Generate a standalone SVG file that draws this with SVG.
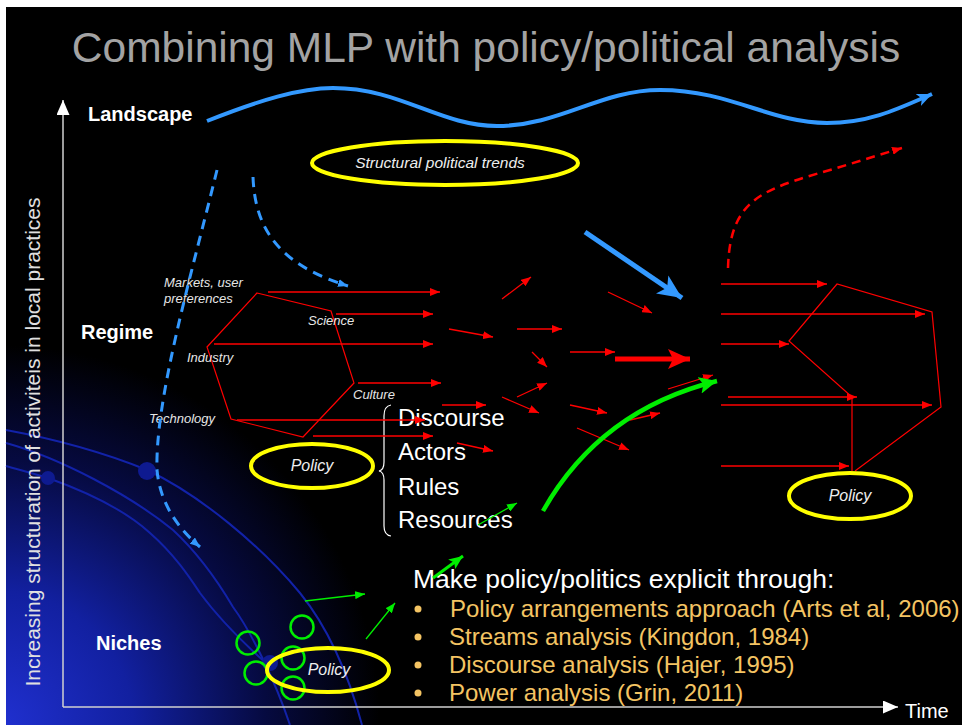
<svg xmlns="http://www.w3.org/2000/svg" width="962" height="725" viewBox="0 0 962 725">
<defs>
<radialGradient id="glow" gradientUnits="userSpaceOnUse" cx="0" cy="725" r="380">
<stop offset="0" stop-color="#2030d0"/>
<stop offset="0.35" stop-color="#1220a0"/>
<stop offset="0.7" stop-color="#060a40"/>
<stop offset="1" stop-color="#000"/>
</radialGradient>
<marker id="hr" markerUnits="userSpaceOnUse" markerWidth="10" markerHeight="8" refX="10" refY="4" orient="auto" viewBox="0 0 10 8"><path d="M0,0L10,4L0,8z" fill="#f00"/></marker>
<marker id="hrb" markerUnits="userSpaceOnUse" markerWidth="22" markerHeight="20" refX="22" refY="10" orient="auto" viewBox="0 0 22 20"><path d="M0,0L22,10L0,20L5,10z" fill="#f00"/></marker>
<marker id="hbw" markerUnits="userSpaceOnUse" markerWidth="15" markerHeight="13" refX="15" refY="6.5" orient="auto" viewBox="0 0 15 13"><path d="M0,0L15,6.5L0,13L4,6.5z" fill="#3399ff"/></marker>
<marker id="hbb" markerUnits="userSpaceOnUse" markerWidth="24" markerHeight="22" refX="24" refY="11" orient="auto" viewBox="0 0 24 22"><path d="M0,0L24,11L0,22L6,11z" fill="#3399ff"/></marker>
<marker id="hbd" markerUnits="userSpaceOnUse" markerWidth="10" markerHeight="8" refX="10" refY="4" orient="auto" viewBox="0 0 10 8"><path d="M0,0L10,4L0,8z" fill="#3399ff"/></marker>
<marker id="hg" markerUnits="userSpaceOnUse" markerWidth="10" markerHeight="8" refX="10" refY="4" orient="auto" viewBox="0 0 10 8"><path d="M0,0L10,4L0,8z" fill="#00ee00"/></marker>
<marker id="hgm" markerUnits="userSpaceOnUse" markerWidth="14" markerHeight="12" refX="14" refY="6" orient="auto" viewBox="0 0 14 12"><path d="M0,0L14,6L0,12L3,6z" fill="#00ee00"/></marker>
<marker id="hgb" markerUnits="userSpaceOnUse" markerWidth="18" markerHeight="17" refX="18" refY="8.5" orient="auto" viewBox="0 0 18 17"><path d="M0,0L18,8.5L0,17L4,8.5z" fill="#00ee00"/></marker>
<marker id="hw" markerUnits="userSpaceOnUse" markerWidth="15" markerHeight="13" refX="15" refY="6.5" orient="auto" viewBox="0 0 15 13"><path d="M0,0L15,6.5L0,13z" fill="#fff"/></marker>
</defs>
<style>
text{font-family:"Liberation Sans",Arial,sans-serif}
.lvl{fill:#fff;font-weight:bold;font-size:20px}
.lab{fill:#e6e6e6;font-style:italic;font-size:13px}
.pol{fill:#eee;font-style:italic;font-size:16px;text-anchor:middle}
.yel{fill:none;stroke:#ffff00;stroke-width:4}
.r{fill:none;stroke:#f00;stroke-width:1.3;marker-end:url(#hr)}
.hex{fill:none;stroke:#f00;stroke-width:1.2}
.arc{fill:none;stroke:#1222a8;stroke-width:2}
.dot{fill:#0e1a90}
.gc{fill:none;stroke:#00ee00;stroke-width:2.5}
.g{fill:none;stroke:#00ee00;stroke-width:1.3;marker-end:url(#hg)}
.big{fill:#fff;font-size:24px}
.bul{fill:#f4c463;font-size:24px}
</style>
<rect x="0" y="0" width="962" height="725" fill="#fff"/>
<rect x="6" y="7" width="956" height="718" fill="#000"/>
<rect x="6" y="300" width="500" height="425" fill="url(#glow)"/>

<g id="arcs">
<path class="arc" d="M6,430 C60,440 110,455 147,470 C200,495 260,545 300,593 C330,630 350,680 362,725"/>
<path class="arc" d="M6,443 C60,458 130,495 173,530 C200,555 220,585 233,607 C250,630 275,680 290,725"/>
<path class="arc" d="M6,466 C20,470 35,474 48,478 C90,493 125,510 150,533 C175,555 190,578 200,593 C220,620 240,640 268,665"/>
<circle class="dot" cx="147" cy="471" r="9"/>
<circle class="dot" cx="48" cy="478" r="7"/>
<circle class="dot" cx="270" cy="663" r="8"/>
</g>

<text x="486" y="62" font-size="42.5" fill="#a3a3a3" text-anchor="middle">Combining MLP with policy/political analysis</text>

<g id="axes">
<line x1="63" y1="707" x2="63" y2="100" stroke="#d0d0d0" stroke-width="1.5" marker-end="url(#hw)"/>
<line x1="63" y1="707" x2="898" y2="707" stroke="#d0d0d0" stroke-width="1.5" marker-end="url(#hw)"/>
<text x="905" y="718" font-size="20" fill="#fff">Time</text>
<text transform="translate(40,442) rotate(-90)" font-size="21" fill="#e0e0e0" text-anchor="middle">Increasing structuration of activiteis in local practices</text>
</g>

<g id="levels">
<text class="lvl" x="88" y="121">Landscape</text>
<text class="lvl" x="81" y="339">Regime</text>
<text class="lvl" x="96" y="650">Niches</text>
</g>

<g id="landscape-wave">
<path d="M207,121 C260,100 300,88 333,88 C400,88 440,126 497,126 C560,126 600,90 660,90 C730,90 770,123 827,123 C870,123 900,108 932,94" fill="none" stroke="#3399ff" stroke-width="4" marker-end="url(#hbw)"/>
</g>

<g id="structural-trends">
<ellipse class="yel" cx="445" cy="163" rx="133" ry="22"/>
<text x="440" y="168" fill="#eee" font-style="italic" font-size="15.5" text-anchor="middle">Structural political trends</text>
</g>

<g id="regime-left">
<polygon class="hex" points="257,293 331,311 354,383 303,437 231,419 207,347"/>
<text class="lab" x="164" y="287">Markets, user</text>
<text class="lab" x="164" y="303">preferences</text>
<text class="lab" x="308" y="325">Science</text>
<text class="lab" x="187" y="362">Industry</text>
<text class="lab" x="353" y="399">Culture</text>
<text class="lab" x="149" y="423">Technology</text>
</g>

<g id="regime-right">
<path class="hex" d="M852,471 L852,397 L789,341 L837,284 L932,312 L941,407 L855,471"/>
</g>

<g id="policy-regime">
<ellipse class="yel" cx="312" cy="466" rx="61" ry="22"/>
<text class="pol" x="312" y="471">Policy</text>
</g>
<g id="policy-right">
<ellipse class="yel" cx="850" cy="496" rx="61" ry="23"/>
<text class="pol" x="850" y="501">Policy</text>
</g>

<g id="niches">
<circle class="gc" cx="302" cy="627" r="11.5"/>
<circle class="gc" cx="248" cy="643" r="11.5"/>
<circle class="gc" cx="293" cy="658" r="11.5"/>
<circle class="gc" cx="256" cy="673" r="11.5"/>
<circle class="gc" cx="293" cy="688" r="11.5"/>
</g>
<g id="policy-niche">
<ellipse class="yel" cx="328" cy="670" rx="61" ry="22"/>
<text class="pol" x="329" y="675">Policy</text>
</g>

<g id="policy-dimensions">
<path d="M391,405 Q384,406 384,416 L384,462 Q384,470 379,471 Q384,472 384,480 L384,526 Q384,535 391,536" fill="none" stroke="#fff" stroke-width="1.2"/>
<text class="big" x="398" y="426">Discourse</text>
<text class="big" x="398" y="460">Actors</text>
<text class="big" x="398" y="495">Rules</text>
<text class="big" x="398" y="528">Resources</text>
</g>

<g id="approaches">
<text x="413" y="588" fill="#fff" font-size="26.5">Make policy/politics explicit through:</text>
<circle cx="418" cy="609" r="3.5" fill="#f4c463"/>
<circle cx="418" cy="637" r="3.5" fill="#f4c463"/>
<circle cx="418" cy="665" r="3.5" fill="#f4c463"/>
<circle cx="418" cy="693" r="3.5" fill="#f4c463"/>
<text class="bul" x="450" y="617">Policy arrangements approach (Arts et al, 2006)</text>
<text class="bul" x="449" y="645">Streams analysis (Kingdon, 1984)</text>
<text class="bul" x="449" y="673">Discourse analysis (Hajer, 1995)</text>
<text class="bul" x="449" y="701">Power analysis (Grin, 2011)</text>
</g>

<g id="connectors">
<path d="M217,170 C190,280 155,400 157,470 C160,505 180,530 200,547" fill="none" stroke="#3399ff" stroke-width="3" stroke-dasharray="10,7" marker-end="url(#hbd)"/>
<path d="M253,177 C255,230 280,265 348,286" fill="none" stroke="#3399ff" stroke-width="3" stroke-dasharray="10,7" marker-end="url(#hbd)"/>
<path d="M728,268 C730,200 760,190 830,170 L902,148" fill="none" stroke="#f00" stroke-width="2.5" stroke-dasharray="9,6" marker-end="url(#hr)"/>
<line x1="585" y1="232" x2="682" y2="298" stroke="#3399ff" stroke-width="5" marker-end="url(#hbb)"/>

<line class="r" x1="268" y1="292" x2="440" y2="292"/>
<line class="r" x1="336" y1="314" x2="433" y2="314"/>
<line class="r" x1="214" y1="344" x2="433" y2="344"/>
<line class="r" x1="358" y1="383" x2="441" y2="383"/>
<line class="r" x1="237" y1="420" x2="425" y2="420"/>
<line class="r" x1="313" y1="436" x2="433" y2="436"/>
<line class="r" x1="442" y1="405" x2="486" y2="405"/>
<line class="r" x1="457" y1="443" x2="493" y2="451"/>

<line class="r" x1="502" y1="299" x2="531" y2="277"/>
<line class="r" x1="608" y1="292" x2="652" y2="313"/>
<line class="r" x1="449" y1="329" x2="493" y2="337"/>
<line class="r" x1="517" y1="329" x2="562" y2="329"/>
<line class="r" x1="532" y1="352" x2="547" y2="367"/>
<line class="r" x1="570" y1="352" x2="615" y2="352"/>
<line x1="615" y1="359" x2="690" y2="359" stroke="#f00" stroke-width="5" marker-end="url(#hrb)"/>
<line class="r" x1="517" y1="397" x2="547" y2="383"/>
<line class="r" x1="502" y1="397" x2="539" y2="413"/>
<line class="r" x1="570" y1="405" x2="607" y2="413"/>
<line class="r" x1="630" y1="420" x2="660" y2="413"/>
<line class="r" x1="577" y1="428" x2="629" y2="450"/>
<line class="r" x1="668" y1="389" x2="713" y2="375"/>

<line class="r" x1="721" y1="284" x2="827" y2="284"/>
<line class="r" x1="721" y1="314" x2="925" y2="314"/>
<line class="r" x1="721" y1="344" x2="789" y2="344"/>
<line class="r" x1="728" y1="397" x2="857" y2="397"/>
<line class="r" x1="721" y1="405" x2="932" y2="405"/>
<line class="r" x1="721" y1="466" x2="849" y2="466"/>

<path d="M543,511 Q600,410 717,381" fill="none" stroke="#00ee00" stroke-width="4.5" marker-end="url(#hgb)"/>
<line class="g" x1="478" y1="525" x2="517" y2="503"/>
<line x1="433" y1="578" x2="463" y2="556" stroke="#00ee00" stroke-width="3" marker-end="url(#hgm)"/>
<line class="g" x1="305" y1="601" x2="365" y2="594"/>
<line class="g" x1="366" y1="639" x2="395" y2="603"/>
</g>
</svg>
